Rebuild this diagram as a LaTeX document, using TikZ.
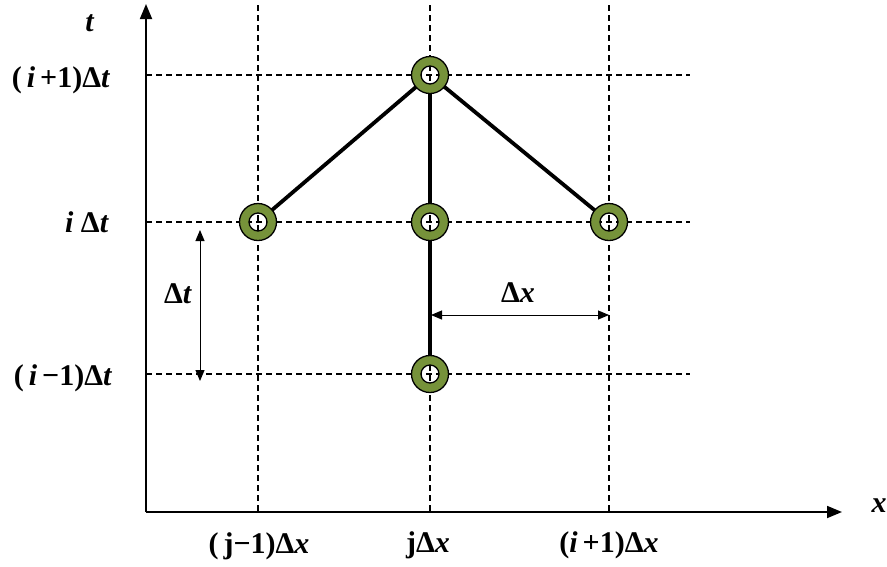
\documentclass[tikz,border=0pt]{standalone}
\usepackage{fontspec}
\setmainfont{Liberation Serif}
\usetikzlibrary{arrows.meta}
\definecolor{ringgreen}{RGB}{118,146,58}

\tikzset{
  gridline/.style={line width=1.8pt, dash pattern=on 6pt off 4pt},
  axisline/.style={line width=1.8pt, -{Triangle[length=15pt,width=12pt]}},
  stencil/.style={line width=3.8pt},
  gap/.style={line width=1pt, {Triangle[length=11pt,width=9pt]}-{Triangle[length=11pt,width=9pt]}},
  ring/.style={circle, minimum size=37pt, inner sep=0pt},
  lbl/.style={font=\fontsize{30}{34}\selectfont\bfseries, inner sep=0pt}
}

\begin{document}
\begin{tikzpicture}[x=1pt,y=-1pt]
\useasboundingbox (0,0) rectangle (887,566);

% grid
\foreach \gx in {258,430,609}
  \draw[gridline] (\gx,5) -- (\gx,512);
\foreach \gy in {75,222,374}
  \draw[gridline] (146,\gy) -- (690,\gy);

% axes
\coordinate (o) at (146,512);
\coordinate (xend) at (842,512);
\coordinate (tend) at (146,4);
\draw[axisline] (o) -- (xend);
\draw[axisline] (o) -- (tend);

% stencil points
\node[ring] (top) at (430,75) {};
\node[ring] (left) at (258,222) {};
\node[ring] (mid) at (430,222) {};
\node[ring] (right) at (609,222) {};
\node[ring] (bot) at (430,374) {};

\draw[stencil] (top) -- (left);
\draw[stencil] (top) -- (right);
\draw[stencil] (top) -- (mid);
\draw[stencil] (mid) -- (bot);

\foreach \p in {top,left,mid,right,bot}
  \filldraw[fill=ringgreen, draw=black, line width=1.3pt, even odd rule]
    (\p.center) circle (18.5) (\p.center) circle (9);

% spacing arrows
\coordinate (dta) at (200,230);
\coordinate (dtb) at (200,381);
\draw[gap] (dta) -- (dtb);
\coordinate (dxa) at (431,315);
\coordinate (dxb) at (609,315);
\draw[gap] (dxa) -- (dxb);

% labels
\node[lbl] (tlab) at (90,23) {\textit{t}};
\node[lbl] (xlab) at (879,506) {\textit{x}};
\node[lbl] (ip1) at (61,80) {(\,\textit{i}\,+1)Δ\textit{t}};
\node[lbl] (i0) at (87,222) {\textit{i} Δ\textit{t}};
\node[lbl] (im1) at (63,378) {(\,\textit{i}\,−1)Δ\textit{t}};
\node[lbl] (jm1) at (259,546) {(\,j−1)Δ\textit{x}};
\node[lbl] (j0) at (428,545) {jΔ\textit{x}};
\node[lbl] (jp1) at (609,545) {(\textit{i}\,+1)Δ\textit{x}};
\node[lbl] (dtlab) at (178,294) {Δ\textit{t}};
\node[lbl] (dxlab) at (518,293) {Δ\textit{x}};
\end{tikzpicture}
\end{document}
